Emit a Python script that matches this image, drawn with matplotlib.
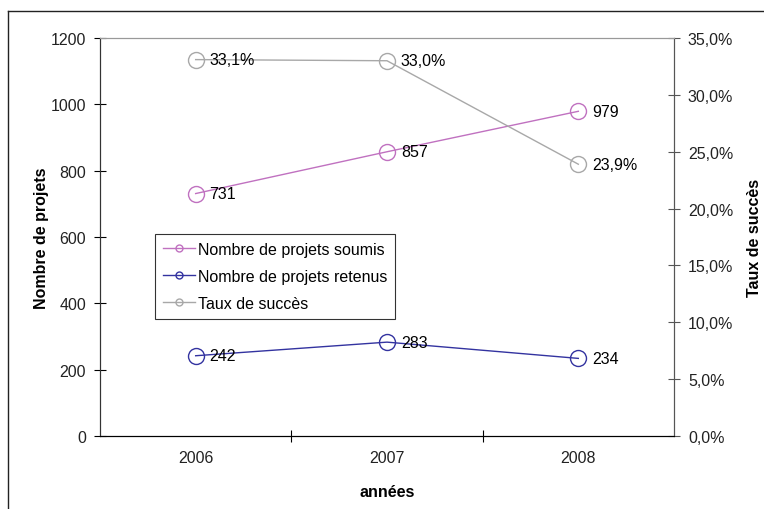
import matplotlib.pyplot as plt
from matplotlib.lines import Line2D
from matplotlib.ticker import FuncFormatter

# Données
annees = ['2006', '2007', '2008']
soumis = [731, 857, 979]
retenus = [242, 283, 234]
taux = [33.1, 33.0, 23.9]

plt.rcParams['font.family'] = ['Liberation Sans', 'DejaVu Sans']

fig = plt.figure(figsize=(7.64, 5.10), dpi=100)
W, H = 764, 510
ax = fig.add_axes([100 / W, 1 - 437 / H, (674 - 100) / W, (437 - 39) / H])
ax2 = ax.twinx()

x = range(len(annees))
c_soumis = '#C071C0'
c_retenus = '#3333A0'
c_taux = '#A8A8A8'

ax.plot(x, soumis, color=c_soumis, lw=1, marker='o', ms=11.5, mfc='none', mec=c_soumis, mew=1,
        label='Nombre de projets soumis')
ax.plot(x, retenus, color=c_retenus, lw=1, marker='o', ms=11.5, mfc='none', mec=c_retenus, mew=1,
        label='Nombre de projets retenus')
ax2.plot(x, taux, color=c_taux, lw=1, marker='o', ms=11.5, mfc='none', mec=c_taux, mew=1,
         label='Taux de succès')

for i, v in enumerate(soumis):
    ax.annotate(str(v), (i, v), xytext=(10, 0), textcoords='offset points', va='center', fontsize=11.5)
for i, v in enumerate(retenus):
    ax.annotate(str(v), (i, v), xytext=(10, 0), textcoords='offset points', va='center', fontsize=11.5)
for i, v in enumerate(taux):
    ax2.annotate(f'{v:.1f}%'.replace('.', ','), (i, v), xytext=(10, 0), textcoords='offset points',
                 va='center', fontsize=11.5)

ax.set_xlim(-0.5, 2.5)
ax.set_ylim(0, 1200)
ax.set_yticks(range(0, 1201, 200))
ax2.set_ylim(0, 35)
ax2.set_yticks(range(0, 36, 5))
ax2.yaxis.set_major_formatter(FuncFormatter(lambda v, p: f'{v:.1f}%'.replace('.', ',')))

ax.set_xticks([0.5, 1.5])
ax.set_xticklabels([])
ax.set_xticks(list(x), minor=True)
ax.set_xticklabels(annees, minor=True)
ax.tick_params(axis='x', which='minor', length=0, pad=10, labelsize=11.5, labelcolor='#222222')
ax.tick_params(axis='x', which='major', direction='inout', length=8)
ax.tick_params(axis='y', direction='inout', length=8, labelsize=11.5, labelcolor='#222222', pad=6)
ax2.tick_params(axis='y', direction='inout', length=8, labelsize=11.5, labelcolor='#222222', pad=6,
                color='#555555')

for a in (ax, ax2):
    a.spines['top'].set_color('#999999')
    a.spines['right'].set_color('#555555')
    a.spines['left'].set_color('#333333')
    a.spines['bottom'].set_color('#000000')

ax.set_ylabel('Nombre de projets', fontweight='bold', fontsize=11.5, labelpad=1)
ax2.set_ylabel('Taux de succès', fontweight='bold', fontsize=11.5, labelpad=10)
ax.set_xlabel('années', fontweight='bold', fontsize=11.5, labelpad=14)

h1, l1 = ax.get_legend_handles_labels()
h2, l2 = ax2.get_legend_handles_labels()
handles = [Line2D([], [], color=h.get_color(), lw=1, marker='o', ms=5, mfc='none',
                  mec=h.get_color()) for h in h1 + h2]
leg = ax.legend(handles, l1 + l2, loc='upper left', bbox_to_anchor=((155 - 100) / 574, (437 - 235) / 398),
                fontsize=11.5, frameon=True, fancybox=False, edgecolor='#000000',
                handlelength=2.0, handletextpad=0.2, borderpad=0.5, labelspacing=0.75,
                borderaxespad=0)
leg.get_frame().set_linewidth(0.8)

# Bordure du graphique
fig.add_artist(Line2D([8 / W, 8 / W], [0, 1 - 12 / H], color='#222222', lw=1))
fig.add_artist(Line2D([8 / W, 1], [1 - 12 / H, 1 - 12 / H], color='#222222', lw=1))

plt.savefig('out.png', dpi=100)
